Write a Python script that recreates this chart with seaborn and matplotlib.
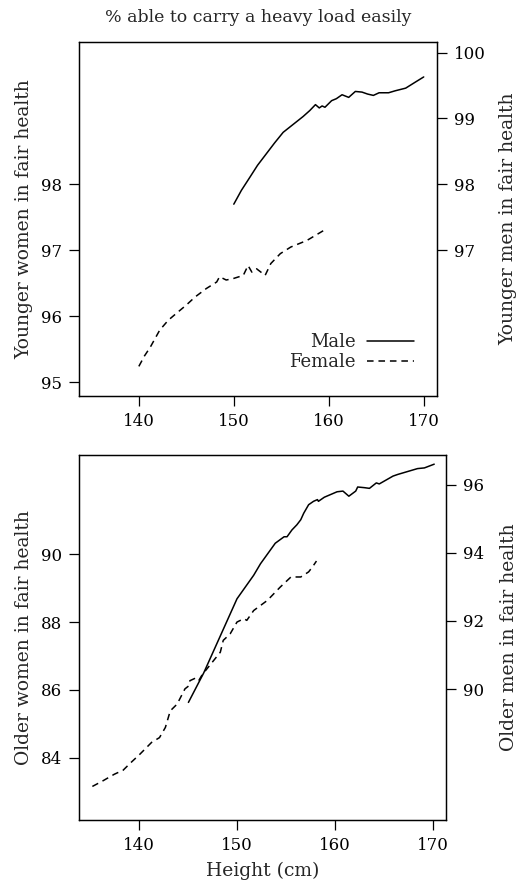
"""
Two-panel chart: % able to carry a heavy load easily vs height,
younger (top) and older (bottom) adults in fair health, men and women.
"""
import matplotlib
matplotlib.use("Agg")
import matplotlib.pyplot as plt
import seaborn as sns
from matplotlib.lines import Line2D

# --- data ---
young_male_x = [150.0, 150.8, 151.7, 152.5, 153.4, 154.3, 155.2, 155.9, 156.6, 157.3,
                158.0, 158.6, 159.0, 159.3, 159.6, 160.3, 160.8, 161.4, 162.1, 162.8,
                163.5, 164.1, 164.7, 165.3, 166.3, 167.0, 168.1, 169.1, 170.0]
young_male_y = [97.70, 97.91, 98.11, 98.29, 98.46, 98.63, 98.79, 98.87, 98.95, 99.03,
                99.12, 99.21, 99.16, 99.19, 99.17, 99.27, 99.30, 99.36, 99.32, 99.41,
                99.40, 99.37, 99.35, 99.39, 99.39, 99.42, 99.46, 99.55, 99.63]

young_female_x = [140.0, 140.6, 141.2, 142.2, 143.1, 144.0, 145.0, 145.9, 147.1, 148.2,
                  148.5, 149.2, 149.9, 151.0, 151.5, 151.9, 152.4, 153.3, 153.9, 154.9,
                  156.0, 157.7, 159.8]
young_female_y = [95.24, 95.40, 95.53, 95.79, 95.94, 96.05, 96.17, 96.29, 96.42, 96.52,
                  96.60, 96.55, 96.57, 96.62, 96.77, 96.67, 96.72, 96.62, 96.80, 96.95,
                  97.05, 97.15, 97.33]

old_male_x = [145.05, 146.6, 148.3, 150.0, 151.7, 152.4, 153.9, 154.8, 155.1, 155.6,
              156.1, 156.5, 156.8, 157.3, 157.8, 158.2, 158.3, 158.9, 160.2, 160.8,
              161.4, 162.1, 162.3, 163.0, 163.5, 164.2, 164.5, 165.9, 166.4, 168.4,
              169.1, 170.1]
old_male_y = [89.61, 90.47, 91.56, 92.65, 93.34, 93.68, 94.28, 94.47, 94.47, 94.67,
              94.82, 94.97, 95.16, 95.41, 95.51, 95.56, 95.51, 95.63, 95.79, 95.81,
              95.66, 95.81, 95.93, 95.91, 95.89, 96.05, 96.02, 96.25, 96.30, 96.47,
              96.49, 96.60]

old_female_x = [135.26, 136.3, 137.5, 138.4, 139.1, 140.1, 141.3, 142.1, 142.7, 143.2,
                143.9, 144.7, 145.1, 145.2, 145.8, 146.1, 146.4, 146.8, 148.3, 148.6,
                149.3, 150.0, 150.7, 151.0, 151.7, 153.1, 154.4, 155.5, 156.5, 157.3,
                157.7, 158.1]
old_female_y = [83.15, 83.31, 83.51, 83.63, 83.83, 84.10, 84.45, 84.59, 84.89, 85.38,
                85.58, 86.03, 86.12, 86.27, 86.35, 86.27, 86.42, 86.57, 87.11, 87.46,
                87.65, 88.00, 88.10, 88.05, 88.34, 88.64, 89.03, 89.33, 89.33, 89.48,
                89.63, 89.80]

x_ticks = [140, 150, 160, 170]
young_women_ticks = [95, 96, 97, 98]
young_men_ticks = [97, 98, 99, 100]
old_women_ticks = [84, 86, 88, 90]
old_men_ticks = [90, 92, 94, 96]

sns.set_theme(style="ticks")
plt.rcParams['font.family'] = ['DejaVu Serif']
plt.rcParams.update({
    'axes.edgecolor': 'black',
    'axes.linewidth': 0.9,
    'xtick.color': 'black',
    'ytick.color': 'black',
    'xtick.major.size': 7,
    'ytick.major.size': 7,
    'xtick.major.width': 0.9,
    'ytick.major.width': 0.9,
    'xtick.labelsize': 12,
    'ytick.labelsize': 12,
    'axes.labelsize': 13.5,
})

DASH = (0, (4.3, 3.2))
LW = 1.1

fig = plt.figure(figsize=(5.25, 8.86), dpi=100)
ax_top = fig.add_axes([0.1505, 0.5530, 0.6819, 0.3996])
ax_top_r = ax_top.twinx()
ax_bot = fig.add_axes([0.1505, 0.0745, 0.6990, 0.4120])
ax_bot_r = ax_bot.twinx()

# --- top panel: younger ---
sns.lineplot(x=young_female_x, y=young_female_y, ax=ax_top, color='black',
             linewidth=LW, linestyle=DASH, errorbar=None)
sns.lineplot(x=young_male_x, y=young_male_y, ax=ax_top_r, color='black',
             linewidth=LW, errorbar=None)
ax_top.set_xlim(133.7, 171.4)
ax_top.set_ylim(94.79, 100.16)
ax_top_r.set_ylim(94.79, 100.16)
ax_top.set_xticks(x_ticks)
ax_top.set_yticks(young_women_ticks)
ax_top_r.set_yticks(young_men_ticks)
ax_top.set_ylabel('Younger women in fair health')
ax_top_r.set_ylabel('Younger men in fair health')
ax_top.set_xlabel('')

# --- bottom panel: older ---
sns.lineplot(x=old_female_x, y=old_female_y, ax=ax_bot, color='black',
             linewidth=LW, linestyle=DASH, errorbar=None)
sns.lineplot(x=old_male_x, y=old_male_y, ax=ax_bot_r, color='black',
             linewidth=LW, errorbar=None)
ax_bot.set_xlim(133.9, 171.3)
ax_bot.set_ylim(82.16, 92.93)
ax_bot_r.set_ylim(86.16, 96.87)
ax_bot.set_xticks(x_ticks)
ax_bot.set_yticks(old_women_ticks)
ax_bot_r.set_yticks(old_men_ticks)
ax_bot.set_ylabel('Older women in fair health')
ax_bot_r.set_ylabel('Older men in fair health')
ax_bot.set_xlabel('Height (cm)', labelpad=6)

for ax in (ax_top, ax_top_r, ax_bot, ax_bot_r):
    ax.tick_params(pad=5)

# label placement
ax_top.yaxis.set_label_coords(-0.128, 0.5)
ax_bot.yaxis.set_label_coords(-0.125, 0.5)
ax_top_r.yaxis.set_label_coords(1.175, 0.5)
ax_bot_r.yaxis.set_label_coords(1.147, 0.5)

# legend
handles = [Line2D([], [], color='black', linewidth=LW),
           Line2D([], [], color='black', linewidth=LW, linestyle=DASH)]
ax_top_r.legend(handles, ['Male', 'Female'], loc='lower right',
                bbox_to_anchor=(0.935, 0.07), frameon=False, markerfirst=False,
                handlelength=2.6, handletextpad=0.6, labelspacing=0.1,
                borderpad=0, borderaxespad=0, fontsize=13)

fig.text(0.491, 1 - 17 / 886, '% able to carry a heavy load easily',
         ha='center', va='center', fontsize=12.5)

fig.savefig('out.png', dpi=100)
